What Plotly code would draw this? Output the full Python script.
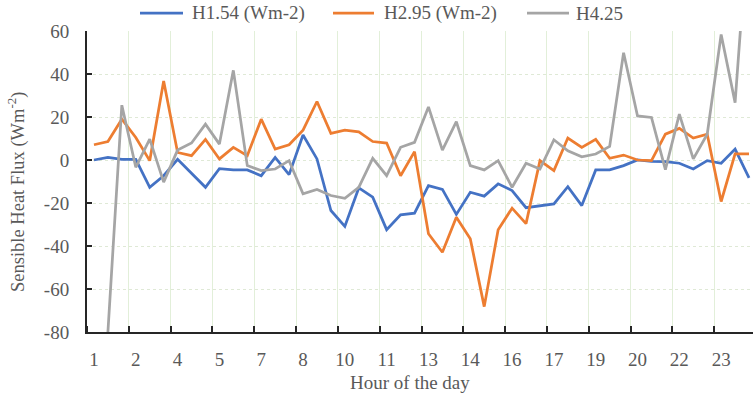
import plotly.graph_objects as go

# Half-hourly time stamps (decimal hours) for the 48 observations
hours = [1.0, 1.5, 2.0, 2.5, 3.0, 3.5, 4.0, 4.5, 5.0, 5.5, 6.0, 6.5,
         7.0, 7.5, 8.0, 8.5, 9.0, 9.5, 10.0, 10.5, 11.0, 11.5, 12.0, 12.5,
         13.0, 13.5, 14.0, 14.5, 15.0, 15.5, 16.0, 16.5, 17.0, 17.5, 18.0, 18.5,
         19.0, 19.5, 20.0, 20.5, 21.0, 21.5, 22.0, 22.5, 23.0, 23.5, 24.0, 24.5]

h154 = [0.0, 1.2, 0.3, 0.3, -12.7, -7.3, 0.3, -6.2, -12.7, -4.0, -4.6, -4.6,
        -7.3, 1.2, -6.8, 11.6, 0.5, -23.5, -30.9, -13.0, -17.3, -32.4, -25.5, -24.7,
        -11.9, -13.7, -25.3, -15.0, -16.8, -11.1, -14.2, -22.2, -21.2, -20.4, -12.4, -21.2,
        -4.6, -4.6, -2.6, 0.0, -0.6, -0.8, -1.5, -4.2, -0.3, -1.5, 5.1, -8.3]

h295 = [7.1, 8.6, 19.0, 10.5, -0.3, 36.7, 3.5, 2.0, 9.6, 0.5, 5.9, 2.0,
        19.0, 5.1, 7.1, 13.9, 27.2, 12.4, 13.9, 13.1, 8.6, 7.9, -7.3, 3.9,
        -34.3, -42.9, -26.6, -36.6, -68.2, -32.4, -22.4, -29.6, -0.3, -4.9, 10.2, 5.9,
        9.6, 0.8, 2.3, 0.0, -0.3, 12.0, 14.7, 10.2, 12.0, -19.3, 2.8, 2.8]

h425 = [None, -80.0, 25.5, -3.4, 9.7, -10.3, 4.6, 7.9, 16.7, 7.4, 41.7, -2.6,
        -4.9, -4.2, -0.3, -15.7, -13.7, -16.5, -17.8, -12.7, 0.8, -7.3, 5.9, 8.2,
        24.7, 4.6, 17.8, -2.6, -4.6, -0.3, -12.7, -1.5, -4.2, 9.4, 4.3, 1.5,
        2.8, 6.3, 49.9, 20.5, 19.8, -4.5, 21.3, 0.5, 12.0, 58.4, 26.7, 115.0]

series_names = ["H1.54 (Wm-2)", "H2.95 (Wm-2)", "H4.25"]
series_values = [h154, h295, h425]
series_colors = ["#4472C4", "#ED7D31", "#A5A5A5"]

y_ticks = [60, 40, 20, 0, -20, -40, -60, -80]
y_ticktext = ["60", "40", "20", "0", "-20", "-40", "-60", "-80"]

# category positions; every third one carries an hour label
idx = list(range(len(hours)))
label_idx = idx[::3]
label_text = [str(int(hours[i])) for i in label_idx]

FONT = "Liberation Serif"
GREY = "#595959"

# plot-area geometry in pixels, used to place the legend and titles
PL, PT, PW, PH = 87, 31, 666, 301


def px_x(px):
    return (px - PL) / PW


def px_y(py):
    return (PT + PH - py) / PH


fig = go.Figure()
for name, vals, color in zip(series_names, series_values, series_colors):
    fig.add_trace(go.Scatter(x=idx, y=vals, name=name, mode="lines",
                             line=dict(color=color, width=2.75),
                             connectgaps=False, showlegend=False))

fig.update_layout(
    width=753, height=397,
    margin=dict(l=PL, r=753 - PL - PW, t=PT, b=397 - PT - PH),
    paper_bgcolor="white", plot_bgcolor="white",
    font=dict(family=FONT, color=GREY, size=19),
)

fig.update_xaxes(
    range=[-0.5, 47.285], showgrid=False, zeroline=False,
    tickmode="array", tickvals=label_idx, ticktext=label_text,
    ticks="", tickfont=dict(family=FONT, size=19, color=GREY),
    ticklabelstandoff=9,
    showline=True, linecolor="#262626", linewidth=2,
    minor=dict(tickmode="linear", tick0=-0.5, dtick=3, showgrid=True,
               gridcolor="#e2efd9", gridwidth=1,
               ticks="inside", ticklen=6, tickwidth=1.5, tickcolor="#262626"),
)

fig.update_yaxes(
    range=[-80, 60], tickmode="array", tickvals=y_ticks, ticktext=y_ticktext,
    showgrid=True, gridcolor="#dfe9d6", gridwidth=1, griddash="dot",
    zeroline=False, ticks="inside", ticklen=5, tickwidth=1.5, tickcolor="#262626",
    tickfont=dict(family=FONT, size=19, color=GREY),
    ticklabelstandoff=12,
    showline=True, linecolor="#262626", linewidth=2,
)

# legend row across the top: line sample followed by the series name
legend_items = [(140, 183, 190), (333, 374, 382), (527, 569, 574)]
for (x0, x1, xt), name, color in zip(legend_items, series_names, series_colors):
    fig.add_shape(type="line", xref="paper", yref="paper",
                  x0=px_x(x0), x1=px_x(x1), y0=px_y(13), y1=px_y(13),
                  line=dict(color=color, width=2.75))
    fig.add_annotation(text=name, xref="paper", yref="paper",
                       x=px_x(xt), y=px_y(13), xanchor="left", yanchor="middle",
                       showarrow=False,
                       font=dict(family=FONT, size=19, color=GREY))

fig.add_annotation(text="Sensible Heat Flux (Wm<sup>-2</sup>)", textangle=-90,
                   xref="paper", yref="paper", x=px_x(16), y=px_y(192),
                   xanchor="center", yanchor="middle", showarrow=False,
                   font=dict(family=FONT, size=18.5, color=GREY))
fig.add_annotation(text="Hour of the day",
                   xref="paper", yref="paper", x=px_x(410), y=px_y(382),
                   xanchor="center", yanchor="middle", showarrow=False,
                   font=dict(family=FONT, size=19, color=GREY))

fig.write_html("out.html")
